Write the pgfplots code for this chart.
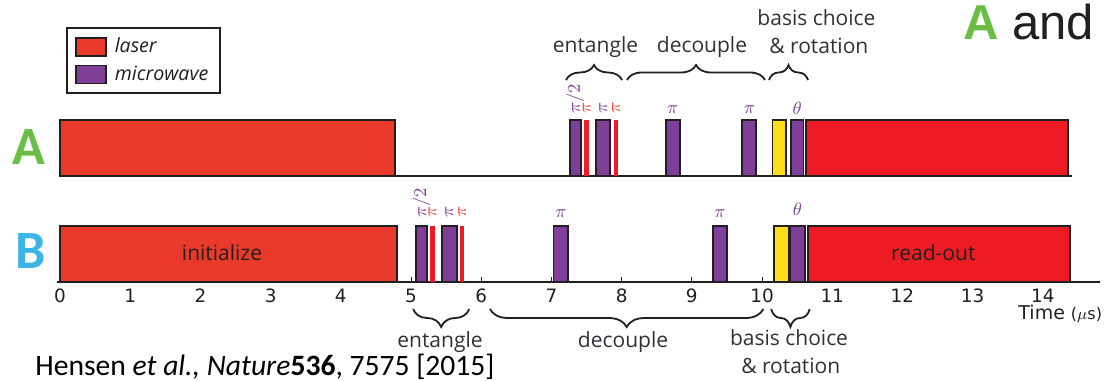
\documentclass[border=0pt]{standalone}
\usepackage{pgfplots}
\pgfplotsset{compat=1.18}
\usepackage{fontspec}
\usetikzlibrary{decorations.pathreplacing}
\setmainfont{Open Sans}
\newfontfamily\carlito{Carlito}
\newfontfamily\dejavu{DejaVu Sans}
\newfontfamily\arialfont{Liberation Sans}

\definecolor{laserinit}{HTML}{E8392A}
\definecolor{laserred}{HTML}{ED1C24}
\definecolor{mwpurple}{HTML}{7F3F98}
\definecolor{basisyellow}{HTML}{FFDE17}
\definecolor{edge}{HTML}{231F20}
\definecolor{labelgreen}{HTML}{6ABD45}
\definecolor{labelblue}{HTML}{3CB4E5}
\definecolor{pired}{HTML}{EF4136}
\definecolor{annot}{HTML}{2F3136}

\newcommand\annfont{\fontsize{10.5}{12}\selectfont}
\newcommand\pifont{\fontsize{8.6}{10}\selectfont}

\pgfplotsset{
  pulse/.style={fill=#1, draw=edge, line width=0.9pt},
  thinpulse/.style={fill=laserred, draw=none},
}
\tikzset{
  upbrace/.style={draw=edge, line width=0.9pt, decorate, decoration={brace, amplitude=7.5pt}},
  downbrace/.style={draw=edge, line width=0.9pt, decorate, decoration={brace, amplitude=9pt}},
}

\begin{document}
\begin{tikzpicture}
\begin{axis}[
  x=35.1pt, y=0.5pt,
  xmin=-0.043, xmax=14.81, ymin=0, ymax=282,
  axis x line=bottom, axis y line=none,
  x axis line style={-, line width=1pt, draw=edge},
  clip=false,
  xtick={0,1,...,14}, ytick=\empty,
  tick align=inside, major tick length=2.5pt,
  tick style={draw=edge, line width=0.5pt},
  /pgf/number format/assume math mode=true,
  xticklabel style={font=\dejavu\fontsize{9.2}{11}\selectfont, text=edge, anchor=base, yshift=-10.2pt},
  xlabel={Time {\fontsize{8}{10}\selectfont($\mu$s)}},
  every axis x label/.style={at={(axis cs:13.647,-37)}, anchor=base west, inner sep=0pt,
    font=\dejavu\fontsize{9.5}{11}\selectfont, text=edge},
  legend style={at={(axis cs:0.085,255)}, anchor=north west, draw=edge, line width=1pt,
    fill=white, font=\itshape\fontsize{9.8}{11}\selectfont, text=edge,
    inner xsep=4pt, inner ysep=3pt, row sep=1pt,
    /tikz/every odd column/.style={column sep=2pt}},
  legend cell align=left,
  legend image code/.code={\draw[#1] (0pt,-4.5pt) rectangle (15pt,4.5pt);},
]
% legend swatches
\addlegendimage{fill=laserinit, draw=edge, line width=0.9pt}
\addlegendentry{laser}
\addlegendimage{fill=mwpurple, draw=edge, line width=0.9pt}
\addlegendentry{microwave}

% ---- node A (baseline at y = 106) ----
\addplot[edge, line width=1pt] coordinates {(-0.014,106) (14.42,106)};
\addplot[pulse=laserinit]   coordinates {(0,106) (0,162) (4.77,162) (4.77,106)} -- cycle;
\addplot[pulse=mwpurple]    coordinates {(7.26,106) (7.26,162) (7.42,162) (7.42,106)} -- cycle;
\addplot[thinpulse]         coordinates {(7.47,106) (7.47,162) (7.54,162) (7.54,106)} -- cycle;
\addplot[pulse=mwpurple]    coordinates {(7.64,106) (7.64,162) (7.84,162) (7.84,106)} -- cycle;
\addplot[thinpulse]         coordinates {(7.89,106) (7.89,162) (7.95,162) (7.95,106)} -- cycle;
\addplot[pulse=mwpurple]    coordinates {(8.63,106) (8.63,162) (8.83,162) (8.83,106)} -- cycle;
\addplot[pulse=mwpurple]    coordinates {(9.72,106) (9.72,162) (9.92,162) (9.92,106)} -- cycle;
\addplot[pulse=basisyellow] coordinates {(10.15,106) (10.15,162) (10.34,162) (10.34,106)} -- cycle;
\addplot[pulse=mwpurple]    coordinates {(10.41,106) (10.41,162) (10.59,162) (10.59,106)} -- cycle;
\addplot[pulse=laserred]    coordinates {(10.63,106) (10.63,162) (14.36,162) (14.36,106)} -- cycle;

% ---- node B (baseline at y = 0) ----
\addplot[pulse=laserinit]   coordinates {(0,0) (0,56) (4.80,56) (4.80,0)} -- cycle;
\addplot[pulse=mwpurple]    coordinates {(5.07,0) (5.07,56) (5.23,56) (5.23,0)} -- cycle;
\addplot[thinpulse]         coordinates {(5.27,0) (5.27,56) (5.34,56) (5.34,0)} -- cycle;
\addplot[pulse=mwpurple]    coordinates {(5.44,0) (5.44,56) (5.65,56) (5.65,0)} -- cycle;
\addplot[thinpulse]         coordinates {(5.70,0) (5.70,56) (5.76,56) (5.76,0)} -- cycle;
\addplot[pulse=mwpurple]    coordinates {(7.03,0) (7.03,56) (7.24,56) (7.24,0)} -- cycle;
\addplot[pulse=mwpurple]    coordinates {(9.30,0) (9.30,56) (9.50,56) (9.50,0)} -- cycle;
\addplot[pulse=basisyellow] coordinates {(10.17,0) (10.17,56) (10.38,56) (10.38,0)} -- cycle;
\addplot[pulse=mwpurple]    coordinates {(10.40,0) (10.40,56) (10.61,56) (10.61,0)} -- cycle;
\addplot[pulse=laserred]    coordinates {(10.66,0) (10.66,56) (14.39,56) (14.39,0)} -- cycle;

% pulse labels, node A
\node[rotate=90, anchor=west, inner sep=0pt, text=mwpurple, font=\pifont] at (axis cs:7.34,168) {$\pi/2$};
\node[rotate=90, anchor=west, inner sep=0pt, text=pired,    font=\pifont] at (axis cs:7.505,168) {$\pi$};
\node[rotate=90, anchor=west, inner sep=0pt, text=mwpurple, font=\pifont] at (axis cs:7.74,168) {$\pi$};
\node[rotate=90, anchor=west, inner sep=0pt, text=pired,    font=\pifont] at (axis cs:7.92,168) {$\pi$};
\node[anchor=base, inner sep=0pt, text=mwpurple, font=\pifont] at (axis cs:8.73,169) {$\pi$};
\node[anchor=base, inner sep=0pt, text=mwpurple, font=\pifont] at (axis cs:9.82,169) {$\pi$};
\node[anchor=base, inner sep=0pt, text=mwpurple, font=\pifont] at (axis cs:10.50,168) {$\theta$};

% pulse labels, node B
\node[rotate=90, anchor=west, inner sep=0pt, text=mwpurple, font=\pifont] at (axis cs:5.15,64) {$\pi/2$};
\node[rotate=90, anchor=west, inner sep=0pt, text=pired,    font=\pifont] at (axis cs:5.305,64) {$\pi$};
\node[rotate=90, anchor=west, inner sep=0pt, text=mwpurple, font=\pifont] at (axis cs:5.545,64) {$\pi$};
\node[rotate=90, anchor=west, inner sep=0pt, text=pired,    font=\pifont] at (axis cs:5.73,64) {$\pi$};
\node[anchor=base, inner sep=0pt, text=mwpurple, font=\pifont] at (axis cs:7.135,65) {$\pi$};
\node[anchor=base, inner sep=0pt, text=mwpurple, font=\pifont] at (axis cs:9.40,65) {$\pi$};
\node[anchor=base, inner sep=0pt, text=mwpurple, font=\pifont] at (axis cs:10.505,67) {$\theta$};

% text inside the long laser pulses
\node[anchor=base, inner sep=0pt, text=edge, font=\annfont] at (axis cs:2.308,22) {initialize};
\node[anchor=base, inner sep=0pt, text=edge, font=\annfont] at (axis cs:12.44,22) {read-out};

% row labels
\node[anchor=base west, inner sep=0pt, text=labelgreen, font=\carlito\bfseries\fontsize{27}{30}\selectfont] at (axis cs:-0.684,118) {A};
\node[anchor=base west, inner sep=0pt, text=labelblue, font=\carlito\bfseries\fontsize{27}{30}\selectfont] at (axis cs:-0.641,14) {B};
\node[anchor=base west, inner sep=0pt, text=edge, font=\arialfont\fontsize{24.5}{28}\selectfont] at (axis cs:12.863,242) {{\color{labelgreen}\bfseries A} and};

% sequence stages above node A
\draw[upbrace] (axis cs:7.208,202) -- (axis cs:8.006,202);
\draw[upbrace] (axis cs:8.077,202) -- (axis cs:10.043,202);
\draw[upbrace] (axis cs:10.10,202) -- (axis cs:10.655,202);
\node[anchor=base, inner sep=0pt, text=annot, font=\annfont] at (axis cs:7.628,229) {entangle};
\node[anchor=base, inner sep=0pt, text=annot, font=\annfont] at (axis cs:9.145,229) {decouple};
\node[anchor=base, inner sep=0pt, text=annot, font=\annfont] at (axis cs:10.776,256) {basis choice};
\node[anchor=base, inner sep=0pt, text=annot, font=\annfont] at (axis cs:10.81,228) {\& rotation};

% sequence stages below node B
\draw[downbrace] (axis cs:5.83,-27) -- (axis cs:5.03,-27);
\draw[downbrace] (axis cs:10.02,-27) -- (axis cs:6.125,-27);
\draw[downbrace] (axis cs:10.68,-27) -- (axis cs:10.13,-27);
\node[anchor=base, inner sep=0pt, text=annot, font=\annfont] at (axis cs:5.413,-65) {entangle};
\node[anchor=base, inner sep=0pt, text=annot, font=\annfont] at (axis cs:8.02,-65) {decouple};
\node[anchor=base, inner sep=0pt, text=annot, font=\annfont] at (axis cs:10.385,-63) {basis choice};
\node[anchor=base, inner sep=0pt, text=annot, font=\annfont] at (axis cs:10.41,-91) {\& rotation};

% reference
\node[anchor=base west, inner sep=0pt, text=black, font=\carlito\fontsize{14.8}{17}\selectfont] at (axis cs:-0.356,-93)
  {Hensen \textit{et al., Nature}\textbf{536}, 7575 [2015]};

\coordinate (bbsw) at (axis cs:-0.8547,-98);
\coordinate (bbne) at (axis cs:14.9145,282);
\end{axis}
\pgfresetboundingbox
\path[use as bounding box] (bbsw) rectangle (bbne);
\end{tikzpicture}
\end{document}
